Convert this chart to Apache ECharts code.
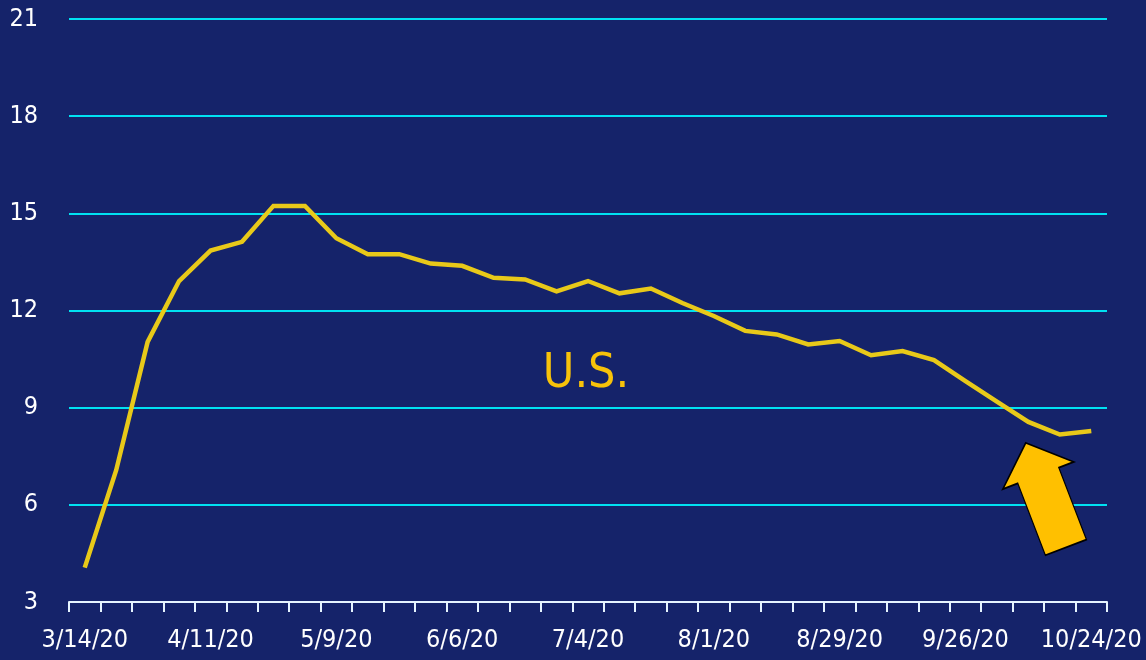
<!DOCTYPE html>
<html>
<head>
<meta charset="utf-8">
<script src="https://cdn.jsdelivr.net/npm/echarts@6/dist/echarts.min.js"></script>
<style>
  html, body { margin: 0; padding: 0; background: #15236a; }
  #main { width: 1146px; height: 660px; }
</style>
</head>
<body>
<div id="main"></div>
<script>
// weekly dates, 3/14/20 - 10/24/20
const weeks = [
  "3/14/20", "3/21/20", "3/28/20", "4/4/20", "4/11/20", "4/18/20", "4/25/20",
  "5/2/20", "5/9/20", "5/16/20", "5/23/20", "5/30/20", "6/6/20", "6/13/20",
  "6/20/20", "6/27/20", "7/4/20", "7/11/20", "7/18/20", "7/25/20", "8/1/20",
  "8/8/20", "8/15/20", "8/22/20", "8/29/20", "9/5/20", "9/12/20", "9/19/20",
  "9/26/20", "10/3/20", "10/10/20", "10/17/20", "10/24/20"
];

// U.S. values
const usValues = [
  4.06, 7.07, 11.03, 12.91, 13.85, 14.12, 15.23, 15.23, 14.23, 13.74, 13.74,
  13.45, 13.38, 13.01, 12.96, 12.59, 12.91, 12.53, 12.68, 12.23, 11.83,
  11.37, 11.26, 10.95, 11.06, 10.62, 10.75, 10.47, 9.82, 9.19, 8.56, 8.17, 8.28
];

const yTicks = { min: 3, max: 21, step: 3 };

// block arrow annotation, anchored near the last weeks
const arrowAnchor = ["10/17/20", 6.3];

const labelFont = '"Liberation Sans Narrow", "DejaVu Sans Condensed", "Liberation Sans", sans-serif';

const chartDom = document.getElementById("main");
const myChart = echarts.init(chartDom, null, { renderer: "canvas" });

const option = {
  backgroundColor: "#15236a",
  animation: false,
  grid: { left: 69, right: 39, top: 19, bottom: 58, containLabel: false, outerBoundsMode: "none" },
  xAxis: {
    type: "category",
    data: weeks,
    boundaryGap: true,
    axisLine: { show: true, lineStyle: { color: "#e6f4ff", width: 2 } },
    axisTick: { show: true, interval: 0, length: 10, lineStyle: { color: "#e6f4ff", width: 2 } },
    axisLabel: {
      interval: 3,
      color: "#ffffff",
      fontFamily: labelFont,
      fontSize: 25,
      margin: 26,
      hideOverlap: false
    },
    splitLine: { show: false }
  },
  yAxis: {
    type: "value",
    min: yTicks.min,
    max: yTicks.max,
    interval: yTicks.step,
    axisLine: { show: false },
    axisTick: { show: false },
    axisLabel: {
      color: "#ffffff",
      fontFamily: labelFont,
      fontSize: 25,
      margin: 31
    },
    splitLine: {
      show: true,
      showMinLine: false,
      lineStyle: { color: "#00e1f2", width: 2 }
    }
  },
  graphic: [
    {
      type: "text",
      x: 586,
      y: 375,
      style: {
        text: "U.S.",
        fill: "#f7c20a",
        font: '48px ' + labelFont,
        textAlign: "center",
        textVerticalAlign: "middle"
      }
    }
  ],
  series: [
    {
      name: "U.S.",
      type: "line",
      data: usValues,
      symbol: "none",
      lineStyle: { color: "#e8c919", width: 4.5, join: "miter" },
      markPoint: {
        silent: true,
        symbol: "path://M38 0 L76 35 L60 35 L60 112 L16 112 L16 35 L0 35 Z",
        symbolSize: [76, 112],
        symbolRotate: 21,
        symbolOffset: [-14, 0],
        itemStyle: { color: "#ffc000", borderColor: "#000000", borderWidth: 1.5 },
        label: { show: false },
        data: [{ coord: arrowAnchor }]
      }
    }
  ]
};

myChart.setOption(option);
</script>
</body>
</html>
